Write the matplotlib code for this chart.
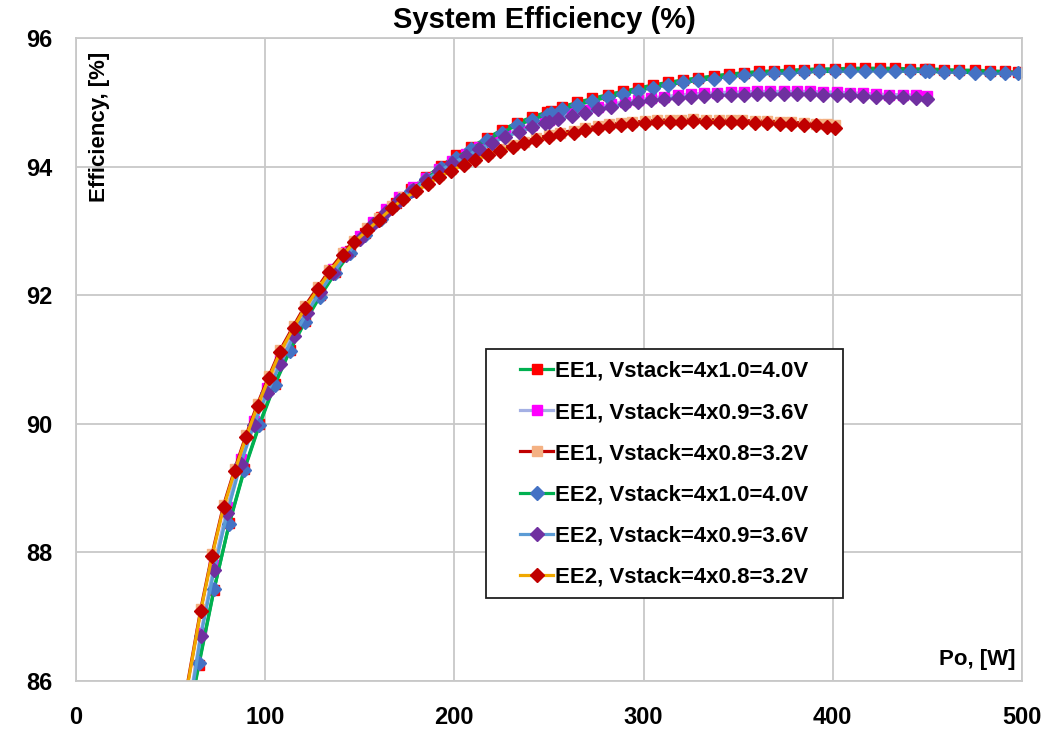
import matplotlib
matplotlib.use("Agg")
from matplotlib import pyplot as plt
from matplotlib.patches import Rectangle

# Po, [W] sample points and measured efficiency, [%]
po_40 = [58, 65, 73, 81, 89, 97, 105, 113, 121, 129, 137, 145, 153, 161, 169, 177, 185, 193, 201, 209,
         217, 225, 233, 241, 249, 251, 257, 265, 273, 281, 289, 297, 305, 313, 321, 329, 337, 345, 353, 361,
         369, 377, 385, 393, 401, 409, 417, 425, 433, 441, 449, 451, 459, 467, 475, 483, 491, 498]
eff_ee1_40 = [85.20, 86.25, 87.42, 88.45, 89.30, 90.00, 90.62, 91.15, 91.60, 92.00, 92.36, 92.68, 92.96, 93.21,
              93.44, 93.65, 93.84, 94.01, 94.18, 94.31, 94.44, 94.57, 94.68, 94.77, 94.85, 94.87, 94.93, 95.00,
              95.06, 95.12, 95.17, 95.22, 95.27, 95.31, 95.35, 95.38, 95.41, 95.44, 95.46, 95.48, 95.49, 95.50,
              95.51, 95.52, 95.52, 95.53, 95.53, 95.53, 95.53, 95.52, 95.52, 95.52, 95.51, 95.50, 95.50, 95.49,
              95.48, 95.47]
eff_ee2_40 = [85.25, 86.28, 87.43, 88.44, 89.28, 89.98, 90.60, 91.13, 91.58, 91.98, 92.34, 92.66, 92.94, 93.19,
              93.42, 93.62, 93.81, 93.98, 94.14, 94.28, 94.41, 94.53, 94.64, 94.73, 94.81, 94.83, 94.89, 94.96,
              95.02, 95.08, 95.13, 95.18, 95.23, 95.27, 95.31, 95.34, 95.37, 95.40, 95.42, 95.44, 95.45, 95.46,
              95.47, 95.48, 95.48, 95.49, 95.49, 95.49, 95.49, 95.48, 95.48, 95.48, 95.47, 95.47, 95.46, 95.46,
              95.45, 95.45]

po_36 = [58, 66, 73, 80, 87, 94, 101, 108, 115, 122, 129, 136, 143, 150, 157, 164, 171, 178, 185, 192,
         199, 206, 213, 220, 227, 234, 241, 248, 250, 255, 262, 269, 276, 283, 290, 297, 304, 311, 318, 325,
         332, 339, 346, 353, 360, 367, 374, 381, 388, 395, 402, 409, 416, 423, 430, 437, 444, 450]
eff_ee1_36 = [85.30, 86.75, 87.80, 88.70, 89.45, 90.05, 90.55, 91.00, 91.42, 91.78, 92.10, 92.40, 92.67, 92.92,
              93.14, 93.34, 93.52, 93.68, 93.83, 93.97, 94.09, 94.20, 94.31, 94.41, 94.50, 94.58, 94.65, 94.72,
              94.73, 94.78, 94.83, 94.88, 94.93, 94.97, 95.01, 95.04, 95.07, 95.09, 95.11, 95.13, 95.14, 95.15,
              95.16, 95.16, 95.17, 95.17, 95.17, 95.17, 95.17, 95.16, 95.16, 95.15, 95.14, 95.13, 95.12, 95.12,
              95.11, 95.10]
eff_ee2_36 = [85.22, 86.70, 87.72, 88.62, 89.37, 89.98, 90.48, 90.93, 91.36, 91.72, 92.05, 92.35, 92.62, 92.87,
              93.10, 93.30, 93.48, 93.64, 93.79, 93.93, 94.05, 94.16, 94.27, 94.37, 94.46, 94.54, 94.61, 94.68,
              94.69, 94.74, 94.79, 94.84, 94.89, 94.93, 94.97, 95.00, 95.03, 95.05, 95.07, 95.09, 95.10, 95.11,
              95.12, 95.12, 95.13, 95.13, 95.13, 95.13, 95.13, 95.12, 95.12, 95.11, 95.10, 95.09, 95.08, 95.08,
              95.07, 95.05]

po_32 = [57, 66, 72, 78, 84, 90, 96, 102, 108, 115, 121, 128, 134, 141, 147, 154, 160, 167, 173, 180,
         186, 192, 198, 205, 211, 218, 224, 231, 237, 243, 250, 256, 263, 269, 276, 282, 288, 294, 301, 307,
         314, 320, 326, 333, 340, 346, 352, 359, 365, 372, 378, 385, 391, 397, 401]
eff_ee1_32 = [85.63, 87.12, 87.98, 88.73, 89.30, 89.83, 90.31, 90.74, 91.15, 91.52, 91.83, 92.13, 92.39, 92.65,
              92.85, 93.04, 93.20, 93.38, 93.53, 93.65, 93.76, 93.87, 93.96, 94.06, 94.14, 94.21, 94.28, 94.34,
              94.39, 94.44, 94.49, 94.53, 94.56, 94.60, 94.63, 94.66, 94.68, 94.69, 94.71, 94.72, 94.73, 94.73,
              94.74, 94.73, 94.73, 94.72, 94.72, 94.71, 94.71, 94.70, 94.69, 94.68, 94.67, 94.66, 94.64]
eff_ee2_32 = [85.60, 87.09, 87.95, 88.70, 89.27, 89.80, 90.28, 90.71, 91.12, 91.49, 91.80, 92.10, 92.36, 92.62,
              92.82, 93.01, 93.17, 93.35, 93.50, 93.62, 93.73, 93.84, 93.93, 94.03, 94.11, 94.18, 94.25, 94.31,
              94.36, 94.41, 94.46, 94.50, 94.53, 94.57, 94.60, 94.63, 94.65, 94.66, 94.68, 94.69, 94.70, 94.70,
              94.71, 94.70, 94.70, 94.69, 94.69, 94.68, 94.68, 94.67, 94.66, 94.65, 94.64, 94.62, 94.60]

labels = ["EE1, Vstack=4x1.0=4.0V", "EE1, Vstack=4x0.9=3.6V", "EE1, Vstack=4x0.8=3.2V",
          "EE2, Vstack=4x1.0=4.0V", "EE2, Vstack=4x0.9=3.6V", "EE2, Vstack=4x0.8=3.2V"]

plt.rcParams['font.family'] = ['Liberation Sans', 'DejaVu Sans']
plt.rcParams['font.weight'] = 'bold'

fig = plt.figure(figsize=(10.52, 7.5), dpi=100)
ax = fig.add_axes([0.0722, 0.092, 0.8992, 0.8573])

# (x, y, line colour, marker, marker colour)
series = [
    (po_40, eff_ee1_40, '#00B050', 's', '#FF0000'),
    (po_36, eff_ee1_36, '#A4B0E4', 's', '#FF00FF'),
    (po_32, eff_ee1_32, '#C00000', 's', '#F4B183'),
    (po_40, eff_ee2_40, '#00B050', 'D', '#4472C4'),
    (po_36, eff_ee2_36, '#5B9BD5', 'D', '#7030A0'),
    (po_32, eff_ee2_32, '#F0A800', 'D', '#C00000'),
]
for (x, y, lc, mk, mc), lab in zip(series, labels):
    ms = 7.5 if mk == 's' else 7
    ax.plot(x, y, color=lc, lw=2.3, marker=mk, ms=ms, mfc=mc, mec=mc, label=lab)

ax.set_xlim(0, 500)
ax.set_ylim(86, 96)
ax.set_xticks([0, 100, 200, 300, 400, 500])
ax.set_yticks([86, 88, 90, 92, 94, 96])
ax.grid(True, color='#C8C8C8', lw=1.3)
ax.set_axisbelow(True)
for sp in ax.spines.values():
    sp.set_color('#C8C8C8')
    sp.set_linewidth(1.3)
ax.tick_params(length=0, labelsize=17)
ax.tick_params(axis='y', pad=17)
ax.tick_params(axis='x', pad=18)
for t in ax.get_xticklabels() + ax.get_yticklabels():
    t.set_fontweight('bold')

fig.text(0.518, 0.974, "System Efficiency (%)", ha='center', va='center', fontsize=21, fontweight='bold')
ax.text(0.0254, 0.862, "Efficiency, [%]", transform=ax.transAxes, rotation=90,
        ha='center', va='center', fontsize=16, fontweight='bold')
ax.text(0.993, 0.033, "Po, [W]", transform=ax.transAxes, ha='right', va='center',
        fontsize=16, fontweight='bold')

# legend box drawn separately so the padding matches the original
ax.add_patch(Rectangle((0.4334, 0.1291), 0.3774, 0.3872, transform=ax.transAxes,
                       facecolor='white', edgecolor='#202020', lw=1.3, zorder=4))
leg = ax.legend(loc='upper left', bbox_to_anchor=(0.4693, 0.498), fontsize=16,
                frameon=False, handlelength=1.5, handletextpad=0.1, labelspacing=0.91,
                borderpad=0, borderaxespad=0)
leg.set_zorder(5)
for t in leg.get_texts():
    t.set_fontweight('bold')

fig.savefig("out.png", dpi=100)
